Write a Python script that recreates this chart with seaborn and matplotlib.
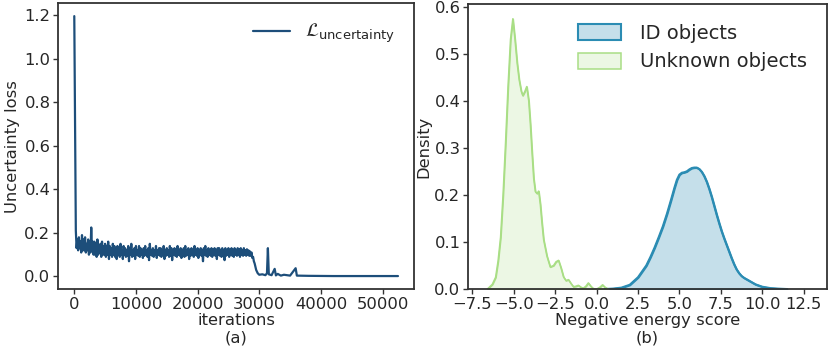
import numpy as np
import matplotlib
matplotlib.use("Agg")
import matplotlib.pyplot as plt
import seaborn as sns
from matplotlib.colors import to_rgba

# --- (a) uncertainty loss ---
# start value, then per 250-iteration window the high / low of the noisy band
LOG_EVERY = 250
loss_start = 1.195
loss_hi = [
    0.21, 0.17, 0.18, 0.16, 0.19, 0.17, 0.18, 0.15, 0.17, 0.16, 0.225, 0.16,
    0.16, 0.15, 0.17, 0.14, 0.15, 0.16, 0.14, 0.15, 0.14, 0.16, 0.14, 0.13,
    0.15, 0.14, 0.13, 0.14,
    0.13, 0.15, 0.12, 0.14, 0.13, 0.12, 0.14, 0.13, 0.15, 0.12, 0.13, 0.14,
    0.12, 0.14, 0.13, 0.12, 0.13, 0.14, 0.12, 0.13, 0.15, 0.12, 0.13, 0.12,
    0.14, 0.12, 0.13, 0.13, 0.12, 0.14, 0.12, 0.13, 0.12, 0.14, 0.13, 0.12,
    0.13, 0.12, 0.14, 0.12, 0.13, 0.12, 0.13, 0.14, 0.12, 0.13, 0.12, 0.13,
    0.12, 0.14, 0.12, 0.13, 0.12, 0.13, 0.12, 0.13, 0.14, 0.12, 0.13, 0.12,
    0.13, 0.12, 0.13, 0.12, 0.13, 0.13, 0.12, 0.13, 0.12, 0.13, 0.12, 0.13,
    0.12, 0.13, 0.12, 0.13, 0.12, 0.13, 0.125, 0.13, 0.12, 0.13, 0.12, 0.125,
    0.12, 0.115, 0.11, 0.09, 0.06,
]
loss_lo = [
    0.13, 0.12, 0.13, 0.11, 0.12, 0.12, 0.11, 0.12, 0.10, 0.11, 0.12, 0.10,
    0.10, 0.09, 0.10, 0.11, 0.09, 0.10, 0.10, 0.09, 0.10, 0.08, 0.10, 0.09,
    0.10, 0.09, 0.08, 0.10,
    0.09, 0.10, 0.08, 0.10, 0.09, 0.095, 0.07, 0.10, 0.09, 0.095, 0.08, 0.10,
    0.095, 0.09, 0.10, 0.085, 0.095, 0.10, 0.09, 0.075, 0.10, 0.095, 0.09, 0.10,
    0.085, 0.10, 0.095, 0.09, 0.10, 0.08, 0.095, 0.10, 0.09, 0.095, 0.075, 0.10,
    0.095, 0.09, 0.10, 0.095, 0.085, 0.10, 0.09, 0.095, 0.10, 0.08, 0.095, 0.10,
    0.09, 0.10, 0.095, 0.085, 0.10, 0.095, 0.07, 0.10, 0.095, 0.09, 0.10, 0.095,
    0.09, 0.10, 0.095, 0.08, 0.10, 0.095, 0.09, 0.10, 0.075, 0.095, 0.10, 0.09,
    0.10, 0.095, 0.09, 0.10, 0.095, 0.10, 0.09, 0.10, 0.095, 0.10, 0.095, 0.10,
    0.095, 0.095, 0.085, 0.07, 0.045,
]
loss_tail_iters = [29500, 29750, 30000, 30500, 31000, 31250, 31400, 31550,
                   32000, 32500, 32700, 33000, 33500, 34000, 35000, 35900,
                   36100, 38000, 42000, 46000, 52500]
loss_tail = [0.03, 0.015, 0.008, 0.010, 0.006, 0.015, 0.130, 0.010,
             0.006, 0.035, 0.005, 0.012, 0.004, 0.008, 0.004, 0.038,
             0.004, 0.003, 0.002, 0.002, 0.002]

# --- (b) density of negative energy score ---
id_x = [0.5, 1.0, 1.5, 2.0, 2.5, 3.0, 3.25, 3.5, 3.75, 4.0, 4.25, 4.5, 4.7,
        4.85, 5.0, 5.15, 5.3, 5.45, 5.6, 5.75, 5.9, 6.05, 6.2, 6.35, 6.5,
        6.65, 6.8, 6.95, 7.1, 7.25, 7.4, 7.55, 7.7, 7.85, 8.0, 8.15, 8.3,
        8.45, 8.6, 8.75, 8.9, 9.2, 9.6, 10.0, 10.5, 11.0, 11.5]
id_density = [0.0, 0.001, 0.003, 0.009, 0.025, 0.05, 0.068, 0.088, 0.11,
              0.133, 0.16, 0.19, 0.215, 0.232, 0.243, 0.247, 0.248, 0.25,
              0.254, 0.257, 0.258, 0.258, 0.255, 0.249, 0.24, 0.228, 0.213,
              0.196, 0.177, 0.158, 0.14, 0.123, 0.108, 0.094, 0.08, 0.066,
              0.053, 0.042, 0.034, 0.028, 0.024, 0.018, 0.01, 0.005, 0.002,
              0.0008, 0.0]

unk_x = [-6.6, -6.3, -6.1, -5.95, -5.8, -5.65, -5.5, -5.35, -5.2, -5.06,
         -4.93, -4.8, -4.68, -4.55, -4.46, -4.33, -4.22, -4.1, -4.0, -3.9,
         -3.8, -3.7, -3.6, -3.5, -3.4, -3.3, -3.2, -3.0, -2.8, -2.6, -2.45,
         -2.3, -2.15, -2.0, -1.85, -1.7, -1.55, -1.4, -1.25, -1.1, -0.95,
         -0.8, -0.65, -0.5, -0.35, -0.2, 0.0, 0.2, 0.36, 0.5, 0.7]
unk_density = [0.0, 0.01, 0.025, 0.06, 0.11, 0.2, 0.31, 0.43, 0.53, 0.574,
               0.53, 0.48, 0.445, 0.42, 0.411, 0.42, 0.43, 0.40, 0.35, 0.29,
               0.235, 0.207, 0.203, 0.208, 0.18, 0.14, 0.105, 0.07, 0.047,
               0.05, 0.058, 0.061, 0.045, 0.026, 0.018, 0.02, 0.012, 0.005,
               0.006, 0.008, 0.004, 0.002, 0.006, 0.013, 0.006, 0.001, 0.0,
               0.004, 0.009, 0.004, 0.0]

LOSS_COLOR = "#1d4e7a"
ID_COLOR = "#2b8cb3"
UNK_COLOR = "#a9de85"
FS = 11.8

sns.set_theme(style="white")
plt.rcParams["font.family"] = ["DejaVu Sans"]
plt.rcParams["mathtext.fontset"] = "dejavusans"

fig = plt.figure(figsize=(8.3, 3.47), dpi=100)
ax1 = fig.add_axes([0.070, 0.167, 0.429, 0.824])
ax2 = fig.add_axes([0.564, 0.167, 0.432, 0.821])

# --- (a) ---
iters, loss = [0], [loss_start]
for k, (hi, lo) in enumerate(zip(loss_hi, loss_lo)):
    it = (k + 1) * LOG_EVERY
    iters += [it, it + LOG_EVERY // 2]
    loss += [hi, lo]
iters += loss_tail_iters
loss += loss_tail
sns.lineplot(x=iters, y=loss, color=LOSS_COLOR, linewidth=1.6, ax=ax1,
             label=r"$\mathcal{L}_{\mathrm{uncertainty}}$")
ax1.set_xlabel("iterations\n(a)", fontsize=FS, labelpad=1)
ax1.set_ylabel("Uncertainty loss", fontsize=FS, labelpad=3)
ax1.set_xticks([0, 10000, 20000, 30000, 40000, 50000])
ax1.set_yticks([0.0, 0.2, 0.4, 0.6, 0.8, 1.0, 1.2])
ax1.legend(loc="upper right", frameon=False, fontsize=13.5,
           handlelength=2.0, borderaxespad=0.6)

# --- (b) ---
sns.lineplot(x=id_x, y=id_density, color=ID_COLOR, linewidth=1.5, ax=ax2)
sns.lineplot(x=unk_x, y=unk_density, color=UNK_COLOR, linewidth=1.1, ax=ax2)
ax2.fill_between(id_x, id_density, facecolor=to_rgba(ID_COLOR, 0.27),
                 edgecolor=ID_COLOR, linewidth=1.5, label="ID objects")
ax2.fill_between(unk_x, unk_density, facecolor=to_rgba(UNK_COLOR, 0.22),
                 edgecolor=UNK_COLOR, linewidth=1.1, label="Unknown objects")
ax2.set_xlim(-7.76, 13.9)
ax2.set_ylim(0, 0.605)
ax2.set_xticks([-7.5, -5.0, -2.5, 0.0, 2.5, 5.0, 7.5, 10.0, 12.5])
ax2.set_yticks([0.0, 0.1, 0.2, 0.3, 0.4, 0.5, 0.6])
ax2.set_xlabel("Negative energy score\n(b)", fontsize=FS, labelpad=1)
ax2.set_ylabel("Density", fontsize=FS, labelpad=2)
ax2.legend(loc="upper right", frameon=False, fontsize=14,
           handlelength=2.2, handleheight=0.9, borderaxespad=0.6,
           handletextpad=1.0)

for ax in (ax1, ax2):
    ax.tick_params(labelsize=FS, length=3.5, width=1, color="#333333",
                   bottom=True, left=True, pad=2)
    for s in ax.spines.values():
        s.set_color("#333333")
        s.set_linewidth(1.3)

fig.savefig("out.png", dpi=100)
